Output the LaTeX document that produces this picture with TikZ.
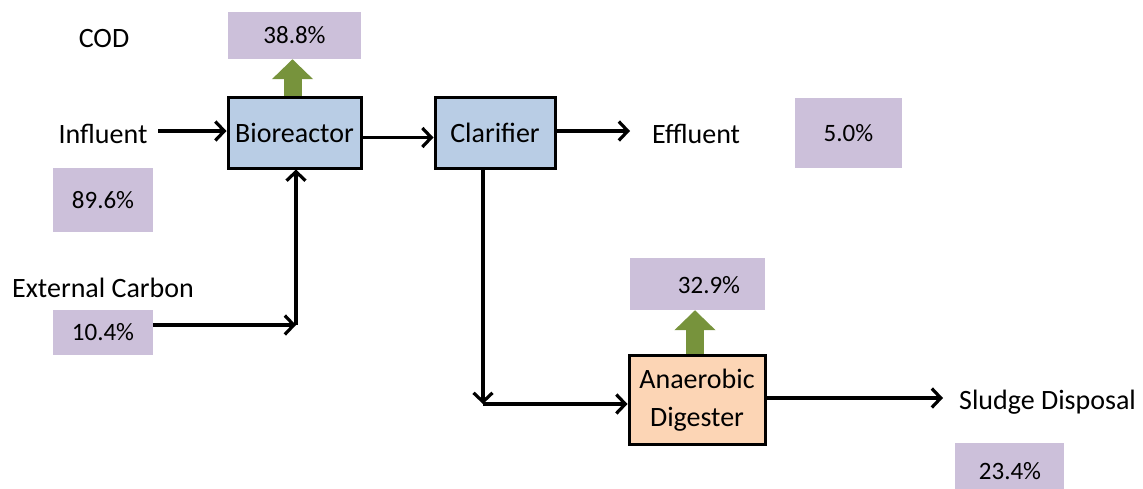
\documentclass[tikz,border=0pt]{standalone}
\usepackage{fontspec}
\setmainfont{Carlito}
\usetikzlibrary{arrows.meta,calc}
\definecolor{pct}{HTML}{CCC0DA}
\definecolor{bluebox}{HTML}{B9CDE5}
\definecolor{orangebox}{HTML}{FCD5B5}
\definecolor{olive}{HTML}{77933C}
\tikzset{
  lbl/.style={font=\fontsize{28}{32}\selectfont, inner sep=0pt},
  pctfont/.style={font=\fontsize{25}{28}\selectfont, inner sep=0pt},
  pctbox/.style={fill=pct, inner sep=0pt, font=\fontsize{25}{28}\selectfont},
  procbox/.style={draw=black, line width=3pt, inner sep=0pt, font=\fontsize{28}{38}\selectfont, align=center},
  flow/.style={line width=3.2pt, -{Straight Barb[length=9pt,width=19pt,line width=3.2pt]}},
  gas/.style={olive, line width=18pt, -{Triangle[length=20pt,width=40pt]}}
}
\begin{document}
\begin{tikzpicture}[x=1pt,y=-1pt]
\useasboundingbox (0,0) rectangle (1143,488);
% labels
\node[lbl] (cod) at (104,39) {COD};
\node[lbl] (infl) at (103,134) {Influent};
\node[lbl] (ext) at (103,288) {External Carbon};
\node[lbl, anchor=west] (eff) at (652,134) {Effluent};
\node[lbl, anchor=west] (sludge) at (959,402) {Sludge Disposal};
% percentage boxes
\node[pctbox, minimum width=133pt, minimum height=47pt] (p388) at (294.5,35.5) {38.8\%};
\node[pctbox, minimum width=107pt, minimum height=70pt] (p50) at (848.5,133) {5.0\%};
\node[pctbox, minimum width=100pt, minimum height=64pt] (p896) at (103,200) {89.6\%};
\node[pctbox, minimum width=100pt, minimum height=45pt] (p104) at (103,332.5) {10.4\%};
\node[pctbox, minimum width=135pt, minimum height=52pt] (p329) at (697.5,284) {};
\node[pctfont] (t329) at (709,285) {32.9\%};
\node[pctbox, minimum width=109pt, minimum height=46pt] (p234) at (1009.5,466) {};
\node[pctfont] (t234) at (1010,471) {23.4\%};
% process boxes
\node[procbox, fill=bluebox, minimum width=133pt, minimum height=71pt] (bio) at (294.5,132.5) {Bioreactor};
\node[procbox, fill=bluebox, minimum width=120pt, minimum height=71pt] (clar) at (495,132.5) {Clarifier};
\node[procbox, fill=orangebox, minimum width=136pt, minimum height=89pt] (dig) at (697,400) {Anaerobic\\Digester};
% gas arrows
\draw[gas] ([xshift=-2pt]bio.north) -- ([xshift=-2pt]bio.north |- p388.south);
\draw[gas] ([xshift=-2pt]dig.north) -- ([xshift=-2pt]dig.north |- p329.south);
% connectors
\coordinate (inStart) at (158,131);
\draw[flow] (inStart) -- (inStart -| bio.west);
\draw[flow] ([yshift=-5pt]bio.east) -- ([yshift=-5pt]clar.west);
\coordinate (effEnd) at (630,131);
\draw[flow] (clar.east |- effEnd) -- (effEnd);
\coordinate (corner1) at (296,325);
\draw[flow] (p104.east |- corner1) -- (corner1);
\draw[flow] (corner1) -- (corner1 |- bio.south);
\coordinate (corner2) at (483,404);
\draw[flow] (corner2 |- clar.south) -- (corner2);
\draw[flow] (corner2) -- (corner2 -| dig.west);
\coordinate (sludgeEnd) at (943,398);
\draw[flow] (dig.east |- sludgeEnd) -- (sludgeEnd);
\end{tikzpicture}
\end{document}
